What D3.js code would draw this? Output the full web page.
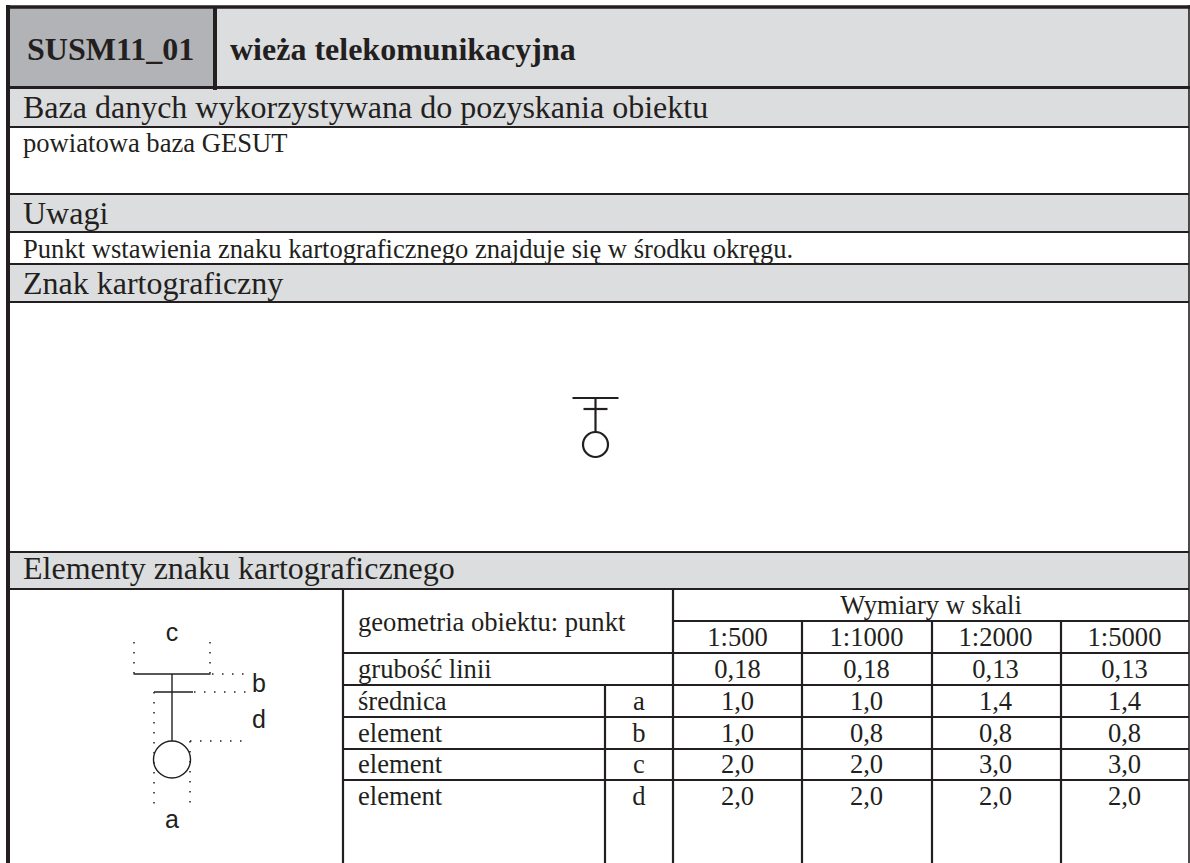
<!DOCTYPE html>
<html>
<head>
<meta charset="utf-8">
<script src="https://cdn.jsdelivr.net/npm/d3@7"></script>
<style>
html, body { margin: 0; padding: 0; background: #fff; }
svg { display: block; }
text { font-family: "Liberation Serif", serif; fill: #231f20; }
</style>
</head>
<body>
<svg id="sheet" width="1190" height="863"></svg>
<script>
const code = "SUSM11_01"
const title = "wieża telekomunikacyjna"
const sections = ["Baza danych wykorzystywana do pozyskania obiektu", "Uwagi", "Znak kartograficzny", "Elementy znaku kartograficznego"]
const sectionNotes = ["powiatowa baza GESUT", "Punkt wstawienia znaku kartograficznego znajduje się w środku okręgu.", "", ""]

const scales = ["1:500", "1:1000", "1:2000", "1:5000"]
const rowLabels = ["grubość linii", "średnica", "element", "element", "element"]
const rowLetters = ["", "a", "b", "c", "d"]
const values500 = ["0,18", "1,0", "1,0", "2,0", "2,0"]
const values1000 = ["0,18", "1,0", "0,8", "2,0", "2,0"]
const values2000 = ["0,13", "1,4", "0,8", "3,0", "2,0"]
const values5000 = ["0,13", "1,4", "0,8", "3,0", "2,0"]
const valueColumns = [values500, values1000, values2000, values5000]

const ink = "#231f20"
const bandLight = "#dcddde"
const bandDark = "#b1b3b6"

const svg = d3.select("#sheet")

// section bands
const bandTop = [88, 194, 264, 552]
const bandBottom = [127, 232, 302, 589]
const bandBase = [118, 224, 294, 579]
const noteBase = [152, 258]

svg.append("rect").attr("x", 8).attr("y", 7).attr("width", 1181).attr("height", 81).attr("fill", bandLight)
svg.append("rect").attr("x", 8).attr("y", 7).attr("width", 207).attr("height", 81).attr("fill", bandDark)

svg.selectAll(".band").data(sections).enter().append("rect")
  .attr("class", "band")
  .attr("x", 8).attr("width", 1181)
  .attr("y", (d, i) => bandTop[i])
  .attr("height", (d, i) => bandBottom[i] - bandTop[i])
  .attr("fill", bandLight)

const hline = (x1, x2, y, w) => svg.append("line").attr("x1", x1).attr("x2", x2).attr("y1", y).attr("y2", y)
  .attr("stroke", ink).attr("stroke-width", w)
const vline = (x, y1, y2, w) => svg.append("line").attr("x1", x).attr("x2", x).attr("y1", y1).attr("y2", y2)
  .attr("stroke", ink).attr("stroke-width", w)

hline(6, 1190, 7, 3.5)
hline(8, 1190, 87.5, 3)
vline(215, 7, 90, 4)
vline(8, 5, 863, 4)
vline(1189, 5, 863, 1.6)
bandBottom.forEach((y) => hline(8, 1189, y, 2.2))
bandTop.forEach((y, i) => { if (i > 0) hline(8, 1189, y, 2.2) })

svg.append("text").attr("x", 27).attr("y", 60).attr("font-size", 32).attr("font-weight", "bold").text(code)
svg.append("text").attr("x", 230).attr("y", 60).attr("font-size", 32).attr("font-weight", "bold").text(title)

svg.selectAll(".band_label").data(sections).enter().append("text")
  .attr("class", "band_label")
  .attr("x", 23)
  .attr("y", (d, i) => bandBase[i])
  .attr("font-size", 32)
  .text((d) => d)

svg.selectAll(".note").data(sectionNotes.filter((d) => d)).enter().append("text")
  .attr("class", "note")
  .attr("x", 23)
  .attr("y", (d, i) => noteBase[i])
  .attr("font-size", 26.6)
  .text((d) => d)

// table
const colEdges = [343, 605, 673, 802, 932, 1061, 1189]
const rowEdges = [589, 621, 653, 685, 717, 749, 780, 863]
const rowBase = [678, 710, 742, 773, 805]
const valueX = d3.scaleBand().domain(scales).range([673, 1189])

hline(673, 1189, rowEdges[1], 2.2)
rowEdges.slice(2, 7).forEach((y) => hline(343, 1189, y, 2.2))
vline(colEdges[0], 589, 863, 2.2)
vline(colEdges[1], 685, 863, 2.2)
vline(colEdges[2], 589, 863, 2.2)
colEdges.slice(3, 6).forEach((x) => vline(x, 621, 863, 2.2))

const cell = (x, y, s, anchor) => svg.append("text").attr("x", x).attr("y", y).attr("font-size", 26.6)
  .attr("text-anchor", anchor || "middle").text(s)

cell(358, 631, "geometria obiektu: punkt", "start")
cell(931, 614, "Wymiary w skali")
scales.forEach((s) => cell(valueX(s) + valueX.bandwidth() / 2, 646, s))
rowLabels.forEach((s, i) => {
  cell(358, rowBase[i], s, "start")
  if (rowLetters[i]) cell(639, rowBase[i], rowLetters[i])
  scales.forEach((sc, j) => cell(valueX(sc) + valueX.bandwidth() / 2, rowBase[i], valueColumns[j][i]))
})

// cartographic sign: cx, top y, bar c, bar b, bar b shift, gap, stem, radius
function draw_sign(g, spec, w) {
  const [cx, y, c, b, shift, gap, stem, r] = spec
  g.append("line").attr("x1", cx - c / 2).attr("x2", cx + c / 2).attr("y1", y).attr("y2", y)
  g.append("line").attr("x1", cx + shift - b / 2).attr("x2", cx + shift + b / 2).attr("y1", y + gap).attr("y2", y + gap)
  g.append("line").attr("x1", cx).attr("x2", cx).attr("y1", y).attr("y2", y + stem)
  g.append("circle").attr("cx", cx).attr("cy", y + stem + r).attr("r", r).attr("fill", "none")
  g.selectAll("line,circle").attr("stroke", ink).attr("stroke-width", w)
}
const signSmall = [595.5, 398, 46, 24, 0, 11, 34, 12.5]
const signLarge = [172, 674, 77, 39, 1.5, 18, 67, 18.5]
draw_sign(svg.append("g"), signSmall, 2.2)
draw_sign(svg.append("g"), signLarge, 1.4)

// dimension guides on the large sign
const guides = [
  [134, 642, 134, 674], [210, 642, 210, 674],
  [212, 674, 248, 674], [194, 692, 248, 692],
  [190, 741, 246, 741], [154, 692, 154, 811], [190, 741, 190, 807]
]
svg.selectAll(".guide").data(guides).enter().append("line")
  .attr("class", "guide")
  .attr("x1", (d) => d[0]).attr("y1", (d) => d[1]).attr("x2", (d) => d[2]).attr("y2", (d) => d[3])
  .attr("stroke", ink).attr("stroke-width", 1.5).attr("stroke-dasharray", "1.5 8.5")

const guideLabels = [["c", 172, 641], ["b", 259, 692], ["d", 259, 728], ["a", 172, 828]]
svg.selectAll(".guide_label").data(guideLabels).enter().append("text")
  .attr("class", "guide_label")
  .attr("x", (d) => d[1]).attr("y", (d) => d[2])
  .attr("text-anchor", "middle")
  .attr("font-size", 25)
  .style("font-family", "'Liberation Sans', sans-serif")
  .text((d) => d[0])
</script>
</body>
</html>
